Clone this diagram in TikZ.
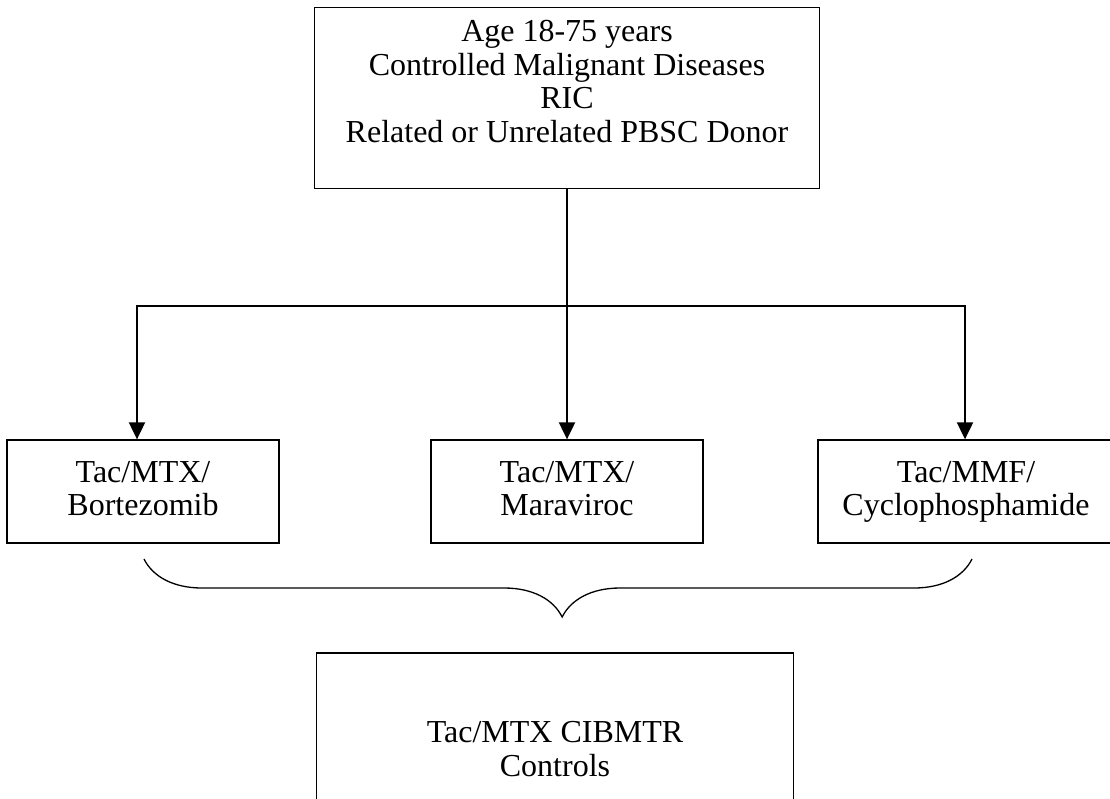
\documentclass[tikz,border=0pt]{standalone}
\usepackage{fontspec}
\setmainfont{Liberation Serif}
\usetikzlibrary{arrows.meta,decorations.pathreplacing}
\begin{document}
\begin{tikzpicture}[x=1pt,y=-1pt,
  box/.style={draw,line width=1.3pt,align=center,inner sep=0pt,
    font=\fontsize{32}{33.5}\selectfont},
  arm/.style={box,minimum height=103pt,text depth=6pt},
  flow/.style={line width=2pt,-{Triangle[length=17pt,width=16pt]}}]
\useasboundingbox (0,0) rectangle (1110,798);
%%% The inclusion box on top
\node[box,minimum width=505pt,minimum height=181pt,text depth=33pt] (incl) at (567,98)
{Age 18-75 years\\Controlled Malignant Diseases\\RIC\\Related or Unrelated PBSC Donor};
%%% The three study arms
\node[arm,minimum width=272pt] (bort) at (143,491.5) {Tac/MTX/\\Bortezomib};
\node[arm,minimum width=272pt] (mara) at (567,491.5) {Tac/MTX/\\Maraviroc};
\node[arm,minimum width=296pt] (cycl) at (966,491.5) {Tac/MMF/\\Cyclophosphamide};
%%% The control group, cut at the bottom
\node[box,minimum width=477pt,minimum height=192pt] (ctrl) at (555,749)
{Tac/MTX CIBMTR\\Controls};
\draw[flow] (incl.south) -- (mara.north);
\coordinate (bus) at (567,306);
\draw[flow] (bus) -| ([xshift=-6pt]bort.north);
\draw[flow] (bus) -| ([xshift=-1pt]cycl.north);
%%% The brace joining the arms
\coordinate (bl) at (144,559);
\coordinate (br) at (972,559);
\draw[line width=1.3pt,decorate,decoration={brace,mirror,amplitude=58pt,aspect=0.505}] (bl) -- (br);
\end{tikzpicture}
\end{document}
